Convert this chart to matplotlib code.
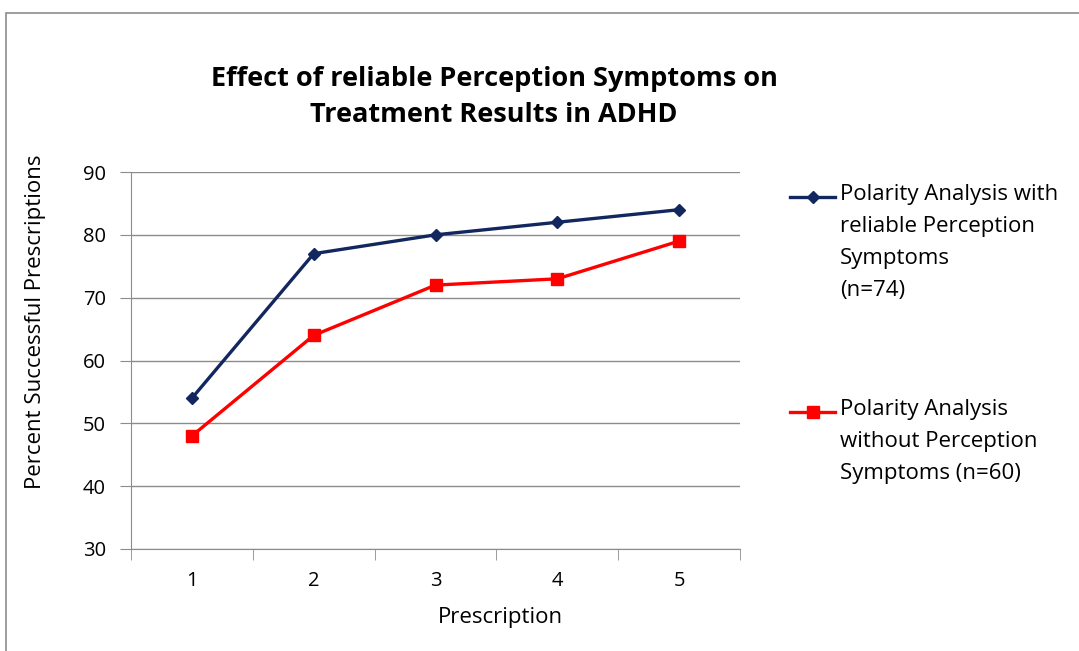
import matplotlib.pyplot as plt
from matplotlib.lines import Line2D
from matplotlib.patches import Rectangle

plt.rcParams['font.family'] = ['Open Sans', 'DejaVu Sans']

prescriptions = [1, 2, 3, 4, 5]
with_perception = [54, 77, 80, 82, 84]
without_perception = [48, 64, 72, 73, 79]
label_with = 'Polarity Analysis with\nreliable Perception\nSymptoms\n(n=74)'
label_without = 'Polarity Analysis\nwithout Perception\nSymptoms (n=60)'

blue = '#12275E'
red = '#FF0000'

W, H = 1079, 651
fig = plt.figure(figsize=(W / 100, H / 100), dpi=100)
fig.patches.append(Rectangle((6 / W, -0.1), 1.2, 1 - 13 / H + 0.1, transform=fig.transFigure,
                             fill=False, edgecolor='#8c8c8c', linewidth=1.2))
ax = fig.add_axes([131 / W, 1 - 549 / H, 609 / W, 377 / H])

ax.plot(prescriptions, with_perception, color=blue, linewidth=2.4, marker='D', markersize=6)
ax.plot(prescriptions, without_perception, color=red, linewidth=2.4, marker='s', markersize=8)

ax.set_xlim(0.5, 5.5)
ax.set_ylim(30, 90)
ax.set_yticks(range(30, 91, 10))
ax.set_xticks(prescriptions)
ax.set_xticks([0.5, 1.5, 2.5, 3.5, 4.5, 5.5], minor=True)
ax.tick_params(axis='x', which='major', length=0, labelsize=14.5, pad=16)
ax.tick_params(axis='x', which='minor', length=8, color='#8c8c8c', direction='out')
ax.tick_params(axis='y', length=8, color='#8c8c8c', labelsize=14.5, pad=10)
ax.yaxis.grid(True, color='#8c8c8c', linewidth=1)
ax.set_axisbelow(True)
for side in ['top', 'right']:
    ax.spines[side].set_visible(False)
for side in ['left', 'bottom']:
    ax.spines[side].set_color('#8c8c8c')

ax.set_xlabel('Prescription', fontsize=16)
ax.set_ylabel('Percent Successful Prescriptions', fontsize=16)
ax.xaxis.set_label_coords(0.606, -(617 - 549) / 377)
ax.yaxis.set_label_coords(-(131 - 36) / 609, 0.602)
ax.xaxis.label.set_va('center')
ax.yaxis.label.set_va('center')

fig.text(494 / W, 1 - 97 / H, 'Effect of reliable Perception Symptoms on\nTreatment Results in ADHD',
         ha='center', va='center', fontsize=19.5, fontweight='bold', linespacing=1.5)

# legend drawn by hand so each handle sits on the first text line
for y, col, mk, ms, lab in [(197, blue, 'D', 6, label_with), (412, red, 's', 8, label_without)]:
    yf = 1 - y / H
    fig.add_artist(Line2D([790 / W, 835 / W], [yf, yf], transform=fig.transFigure,
                          color=col, linewidth=2.4))
    fig.add_artist(Line2D([812.5 / W], [yf], transform=fig.transFigure,
                          color=col, marker=mk, markersize=ms))
    fig.text(840 / W, 1 - (y - 13) / H, lab, ha='left', va='top', fontsize=16, linespacing=1.68)

fig.savefig('out.png', dpi=100)
